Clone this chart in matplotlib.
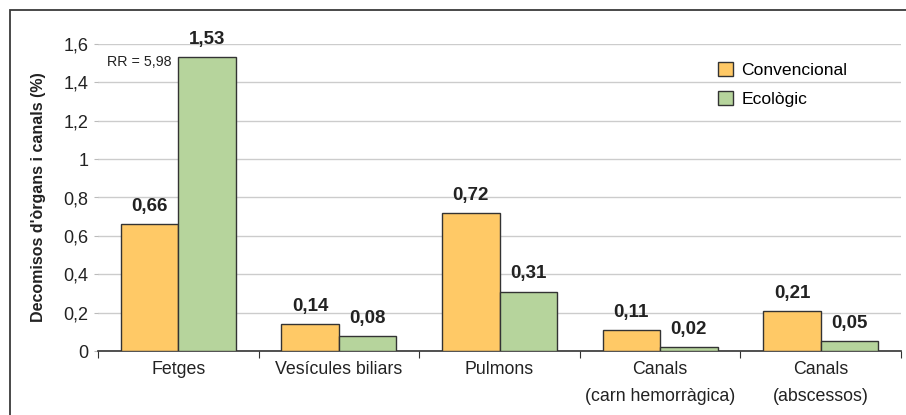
import matplotlib
matplotlib.use("Agg")
import matplotlib.pyplot as plt
import matplotlib.patches as mpatches
import numpy as np

plt.rcParams['font.family'] = ['Liberation Sans', 'DejaVu Sans']

categories = ["Fetges", "Vesícules biliars", "Pulmons", "Canals\n(carn hemorràgica)", "Canals\n(abscessos)"]
convencional = [0.66, 0.14, 0.72, 0.11, 0.21]
ecologic = [1.53, 0.08, 0.31, 0.02, 0.05]
labels_conv = ["0,66", "0,14", "0,72", "0,11", "0,21"]
labels_eco = ["1,53", "0,08", "0,31", "0,02", "0,05"]
yticks = [0, 0.2, 0.4, 0.6, 0.8, 1.0, 1.2, 1.4, 1.6]
yticklabels = ["0", "0,2", "0,4", "0,6", "0,8", "1", "1,2", "1,4", "1,6"]
series_names = ["Convencional", "Ecològic"]
rr_text = "RR = 5,98"

c_conv = "#FFC966"
c_eco = "#B6D49C"
edge = "#333333"
txt = "#222222"

W, H = 906, 415
fig = plt.figure(figsize=(W/100, H/100), dpi=100)
ax = fig.add_axes([98/W, 1-351/H, (901-98)/W, (351-44)/H])

# outer border (top and left visible)
fig.patches.append(mpatches.Rectangle((10/W, -0.1), 1.2, 1-10/H+0.1, transform=fig.transFigure,
                                      fill=False, edgecolor="#3a3a3a", linewidth=1.3, zorder=0))

x = np.arange(len(categories))
w = 0.358
ax.bar(x - w/2, convencional, w, color=c_conv, edgecolor=edge, linewidth=1.0, label=series_names[0], zorder=3)
ax.bar(x + w/2, ecologic, w, color=c_eco, edgecolor=edge, linewidth=1.0, label=series_names[1], zorder=3)

for xs, vals, labs in ((x - w/2, convencional, labels_conv), (x + w/2, ecologic, labels_eco)):
    for xi, v, t in zip(xs, vals, labs):
        ax.annotate(t, (xi, v), xytext=(0, 6.5), textcoords="offset points", ha="center", va="bottom",
                    fontsize=13.5, fontweight="bold", color=txt, annotation_clip=False)

ax.text(x[0] - 0.04, 1.506, rr_text, ha="right", va="center", fontsize=10.3, color=txt)

ax.set_xlim(-0.5, len(categories) - 0.5)
ax.set_ylim(0, 1.6)
ax.set_yticks(yticks)
ax.set_yticklabels(yticklabels, fontsize=13, color=txt)
ax.yaxis.grid(True, color="#cccccc", linewidth=1.0, zorder=0)
ax.set_axisbelow(True)
ax.tick_params(axis="y", length=3, color="#bbbbbb", pad=4)

ax.set_xticks(np.arange(len(categories) + 1) - 0.5)
ax.set_xticklabels([])
ax.set_xticks(x, minor=True)
ax.set_xticklabels(categories, minor=True, fontsize=12.8, color=txt, linespacing=1.75)
ax.tick_params(axis="x", which="major", length=5, color="#333333", direction="out")
ax.tick_params(axis="x", which="minor", length=0, pad=7.5)

for s in ["top", "right", "left"]:
    ax.spines[s].set_visible(False)
ax.spines["bottom"].set_color("#333333")
ax.spines["bottom"].set_linewidth(1.2)

ax.set_ylabel("Decomisos d'òrgans i canals (%)", fontsize=11.5, fontweight="bold", color=txt, labelpad=12)

leg = ax.legend(loc="upper left", bbox_to_anchor=(611/803, 1 - 9/307), frameon=False, fontsize=12.6,
                handlelength=0.85, handleheight=0.85, handletextpad=0.5, labelspacing=0.75, borderpad=0)
for p in leg.get_patches():
    p.set_edgecolor(edge)

fig.savefig("out.png", dpi=100)
